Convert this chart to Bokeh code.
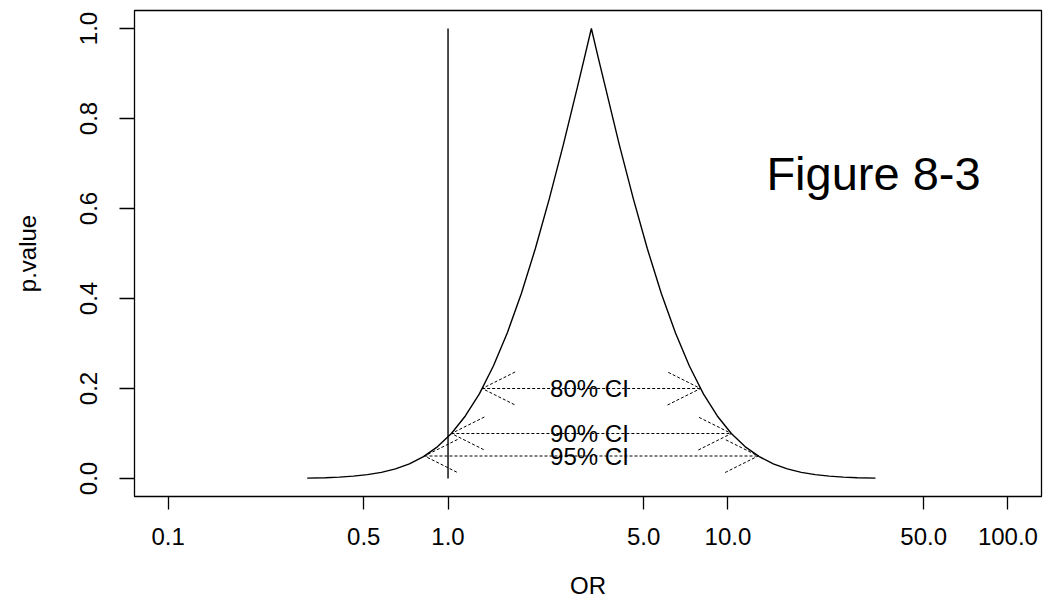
from bokeh.plotting import figure
from bokeh.models import (Arrow, OpenHead, ColumnDataSource, FixedTicker,
                          CustomJSTickFormatter, Label)
from bokeh.core.properties import value
from bokeh.embed import file_html
from bokeh.resources import INLINE

# ---- data ----
or_vals = [0.314, 0.365, 0.409, 0.459, 0.515, 0.578, 0.649, 0.728, 0.817, 0.916,
           1.028, 1.153, 1.294, 1.452, 1.629, 1.828, 2.051, 2.301, 2.582, 2.897,
           3.069, 3.251, 3.443, 3.65, 4.09, 4.59, 5.15, 5.78, 6.49, 7.28, 8.17,
           9.16, 10.28, 11.53, 12.94, 14.52, 16.29, 18.28, 20.51, 23.01, 25.82,
           28.97, 33.65]
p_vals = [0.0008, 0.0018, 0.0031, 0.0052, 0.0085, 0.0136, 0.0213, 0.0325, 0.0485, 0.0704,
          0.100, 0.139, 0.188, 0.250, 0.324, 0.411, 0.511, 0.622, 0.742, 0.869,
          0.934, 1.0, 0.934, 0.869, 0.742, 0.622, 0.511, 0.411, 0.324, 0.250, 0.188,
          0.139, 0.100, 0.0704, 0.0485, 0.0325, 0.0213, 0.0136, 0.0085, 0.0052, 0.0031,
          0.0018, 0.0008]

ci_labels = ["80% CI", "90% CI", "95% CI"]
ci_p = [0.2, 0.1, 0.05]
ci_lower = [1.324, 1.028, 0.824]
ci_upper = [7.98, 10.28, 12.82]
ci_center = [3.2, 3.2, 3.2]

null_or = [1.0]
null_p0 = [0.0]
null_p1 = [1.0]

x_ticks = [0.1, 0.5, 1.0, 5.0, 10.0, 50.0, 100.0]
y_ticks = [0.0, 0.2, 0.4, 0.6, 0.8, 1.0]

FONT = "Liberation Sans"
FS = "24px"

p = figure(width=1052, height=603, x_axis_type="log",
           x_range=(10 ** -1.12, 10 ** 2.12), y_range=(-0.04, 1.04),
           output_backend="svg", toolbar_location=None,
           min_border_left=134, min_border_right=11,
           min_border_top=10, min_border_bottom=107,
           background_fill_color="white", border_fill_color="white")

p.xgrid.visible = False
p.ygrid.visible = False
p.outline_line_color = "black"
p.outline_line_width = 1.3
p.outline_line_alpha = 1.0

fmt = CustomJSTickFormatter(code="return tick.toFixed(1);")

xa = p.xaxis[0]
xa.ticker = FixedTicker(ticks=x_ticks, minor_ticks=[])
xa.formatter = fmt
xa.axis_line_color = None
xa.major_tick_in = 0
xa.major_tick_out = 13
xa.minor_tick_in = 0
xa.minor_tick_out = 0
xa.major_tick_line_width = 1.3
xa.major_tick_line_color = "black"
xa.major_label_standoff = 18
xa.major_label_text_font = FONT
xa.major_label_text_font_size = FS
xa.major_label_text_color = "black"
xa.axis_label = "OR"
xa.axis_label_text_font = FONT
xa.axis_label_text_font_size = FS
xa.axis_label_text_font_style = "normal"
xa.axis_label_text_color = "black"
xa.axis_label_standoff = 24

ya = p.yaxis[0]
ya.ticker = FixedTicker(ticks=y_ticks, minor_ticks=[])
ya.formatter = fmt
ya.axis_line_color = None
ya.major_tick_in = 0
ya.major_tick_out = 15
ya.minor_tick_in = 0
ya.minor_tick_out = 0
ya.major_tick_line_width = 1.3
ya.major_tick_line_color = "black"
ya.major_label_orientation = "vertical"
ya.major_label_standoff = 23
ya.major_label_text_font = FONT
ya.major_label_text_font_size = FS
ya.major_label_text_color = "black"
ya.axis_label = "p.value"
ya.axis_label_text_font = FONT
ya.axis_label_text_font_size = FS
ya.axis_label_text_font_style = "normal"
ya.axis_label_text_color = "black"
ya.axis_label_standoff = 36

# p-value function
p.line(or_vals, p_vals, line_color="black", line_width=1.4)

# null line at OR = 1
p.segment(x0=null_or, y0=null_p0, x1=null_or, y1=null_p1,
          line_color="black", line_width=1.4)

# confidence-interval arrows
ci_src = ColumnDataSource(dict(x0=ci_lower, x1=ci_upper, y=ci_p,
                               xc=ci_center, label=ci_labels))
head_kw = dict(size=33, line_dash="3 2", line_width=1, line_color="black")
p.add_layout(Arrow(start=OpenHead(**head_kw), end=OpenHead(**head_kw),
                   x_start="x0", y_start="y", x_end="x1", y_end="y",
                   source=ci_src, line_dash="3 2", line_width=1,
                   line_color="black"))

p.text(x="xc", y="y", text="label", source=ci_src,
       text_font=value(FONT), text_font_size=FS,
       text_align="center", text_baseline="middle", text_color="black")

p.add_layout(Label(x=33.1, y=0.677, text="Figure 8-3",
                   text_font=FONT, text_font_size="47px",
                   text_align="center", text_baseline="middle",
                   text_color="black"))

open("out.html", "w").write(file_html(p, INLINE))
